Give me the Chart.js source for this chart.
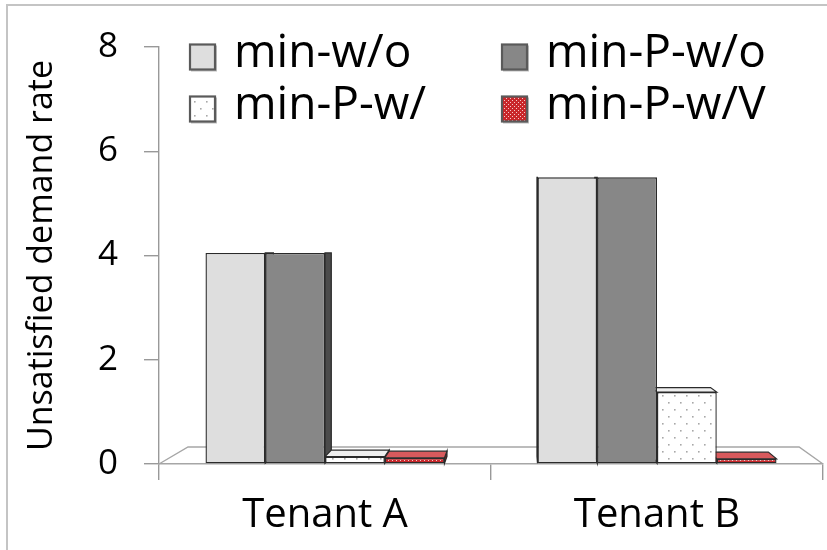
<!DOCTYPE html>
<html>
<head>
<meta charset="utf-8">
<script src="https://cdn.jsdelivr.net/npm/chart.js@4.4.1/dist/chart.umd.min.js"></script>
<style>
  html, body { margin: 0; padding: 0; background: #ffffff; }
  #wrap { width: 827px; height: 550px; }
</style>
</head>
<body>
<div id="wrap"><canvas id="chart" width="827" height="550"></canvas></div>
<script>
// Categories, series and axis ticks
const categories = ['Tenant A', 'Tenant B'];
const seriesNames = ['min-w/o', 'min-P-w/o', 'min-P-w/', 'min-P-w/V'];
const minWo   = [4.05, 5.50];
const minPWo  = [4.05, 5.50];
const minPW   = [0.14, 1.38];
const minPWV  = [0.12, 0.10];
const yTicks  = [0, 2, 4, 6, 8];

const FONT = "'Open Sans', 'Noto Sans', sans-serif";

// Fill patterns
function dotPattern() {
  const c = document.createElement('canvas');
  c.width = 12; c.height = 14;
  const g = c.getContext('2d');
  g.fillStyle = '#ffffff';
  g.fillRect(0, 0, 12, 14);
  g.fillStyle = '#a8a8a8';
  g.fillRect(2, 3, 1.6, 1.6);
  g.fillRect(8, 10, 1.6, 1.6);
  return g.createPattern(c, 'repeat');
}
function redPattern() {
  const c = document.createElement('canvas');
  c.width = 4; c.height = 4;
  const g = c.getContext('2d');
  g.fillStyle = '#c9272b';
  g.fillRect(0, 0, 4, 4);
  g.fillStyle = '#f3c9c9';
  g.fillRect(0, 0, 1, 1);
  g.fillRect(2, 2, 1, 1);
  return g.createPattern(c, 'repeat');
}

const fills = ['#dedede', '#878787', dotPattern(), redPattern()];
const sideFills = ['#a9a9a9', '#4b4b4b', '#d0d0d0', '#8e1b1e'];
const topFills = ['#ececec', '#a4a4a4', '#efefef', '#d85a5d'];
const seriesValues = [minWo, minPWo, minPW, minPWV];

// Outer frame and white background
const framePlugin = {
  id: 'frame',
  beforeDraw(chart) {
    const g = chart.ctx;
    g.save();
    g.fillStyle = '#ffffff';
    g.fillRect(0, 0, chart.width, chart.height);
    g.strokeStyle = '#c4c4c4';
    g.lineWidth = 2;
    g.strokeRect(7, 5, chart.width + 10, chart.height + 10);
    g.restore();
  }
};

// Perspective floor and the depth faces of the bars
const depthPlugin = {
  id: 'depth',
  beforeDatasetsDraw(chart) {
    const g = chart.ctx;
    const area = chart.chartArea;
    const ys = chart.scales.y;
    const w = area.right - area.left;
    const base0 = ys.getPixelForValue(0);
    const depth = 17;
    const shL = w * 0.0437, shR = w * 0.036;

    g.save();
    g.lineWidth = 1.4;
    g.strokeStyle = '#a6a6a6';
    g.beginPath();
    g.moveTo(area.left, base0);
    g.lineTo(area.left + shL, base0 - depth);
    g.lineTo(area.right - shR, base0 - depth);
    g.lineTo(area.right, base0);
    g.stroke();

    const vpX = area.left + w * 0.546;
    const k = 0.032;
    const eyeY = (area.top + area.bottom) / 2;
    const barDepth = 6.8;
    const dx = x => (vpX - x) * k;

    chart.data.datasets.forEach((ds, di) => {
      const meta = chart.getDatasetMeta(di);
      meta.data.forEach(el => {
        const p = el.getProps(['x', 'y', 'base', 'width'], true);
        const left = p.x - p.width / 2, right = p.x + p.width / 2;
        const top = p.y, base = p.base;
        const t = Math.max(0, Math.min(1, (top - eyeY) / (base - eyeY)));
        const dyT = barDepth * t;
        g.strokeStyle = '#2a2a2a';
        g.lineWidth = 1.2;
        // side face
        const dR = dx(right), dL = dx(left);
        if (dR > 0.5) {
          g.beginPath();
          g.moveTo(right, top);
          g.lineTo(right + dR, top - dyT);
          g.lineTo(right + dR, base - barDepth);
          g.lineTo(right, base);
          g.closePath();
          g.fillStyle = sideFills[di];
          g.fill(); g.stroke();
        } else if (dL < -0.5) {
          g.beginPath();
          g.moveTo(left, top);
          g.lineTo(left + dL, top - dyT);
          g.lineTo(left + dL, base - barDepth);
          g.lineTo(left, base);
          g.closePath();
          g.fillStyle = sideFills[di];
          g.fill(); g.stroke();
        }
        // top face
        if (dyT > 0.8) {
          g.beginPath();
          g.moveTo(left, top);
          g.lineTo(right, top);
          g.lineTo(right + dR, top - dyT);
          g.lineTo(left + dL, top - dyT);
          g.closePath();
          g.fillStyle = topFills[di];
          g.fill(); g.stroke();
        }
      });
    });
    g.restore();
  }
};

// Two-column legend inside the plot
const legendPlugin = {
  id: 'gridLegend',
  afterDraw(chart) {
    const g = chart.ctx;
    const cols = [190, 502];
    const rows = [57, 109];
    const box = 25;
    g.save();
    g.font = '46px ' + FONT;
    g.textBaseline = 'middle';
    g.textAlign = 'left';
    chart.data.datasets.forEach((ds, i) => {
      const bx = cols[i % 2], cy = rows[Math.floor(i / 2)];
      const by = cy - box / 2;
      g.fillStyle = '#bdbdbd';
      g.fillRect(bx + 1, by + 1, box + 1, box + 1);
      g.fillStyle = ds.backgroundColor;
      g.fillRect(bx, by, box, box);
      g.strokeStyle = '#5a5a5a';
      g.lineWidth = 2.2;
      g.strokeRect(bx, by, box, box);
      g.fillStyle = '#000000';
      g.fillText(ds.label, bx + 44, cy - 3);
    });
    g.restore();
  }
};

const datasets = seriesNames.map((name, i) => ({
  label: name,
  data: seriesValues[i],
  backgroundColor: fills[i],
  borderColor: '#2a2a2a',
  borderWidth: 1.4,
  borderSkipped: false,
  categoryPercentage: 0.72,
  barPercentage: 1.0
}));

new Chart(document.getElementById('chart'), {
  type: 'bar',
  data: { labels: categories, datasets },
  options: {
    responsive: false,
    animation: false,
    devicePixelRatio: 1,
    layout: { padding: { left: 14, top: 43, right: 4, bottom: 10 } },
    plugins: {
      legend: { display: false },
      tooltip: { enabled: false }
    },
    scales: {
      x: {
        grid: { display: true, drawOnChartArea: false, tickLength: 16, color: '#999999', lineWidth: 1.4, offset: true },
        border: { display: true, color: '#a6a6a6', width: 1.4 },
        ticks: { color: '#000000', font: { family: FONT, size: 40 }, padding: 12 },
        afterFit(scale) { scale.height = 76; }
      },
      y: {
        min: 0,
        max: 8,
        afterBuildTicks(scale) { scale.ticks = yTicks.map(v => ({ value: v })); },
        grid: { display: true, drawOnChartArea: false, tickLength: 15, color: '#999999', lineWidth: 1.4 },
        border: { display: true, color: '#999999', width: 1.4 },
        ticks: { color: '#000000', font: { family: FONT, size: 35 }, padding: 26 },
        title: {
          display: true,
          text: 'Unsatisfied demand rate',
          color: '#000000',
          font: { family: FONT, size: 34 },
          padding: { top: 8, bottom: 0 }
        },
        afterFit(scale) { scale.width = 145; }
      }
    }
  },
  plugins: [framePlugin, depthPlugin, legendPlugin]
});
</script>
</body>
</html>
